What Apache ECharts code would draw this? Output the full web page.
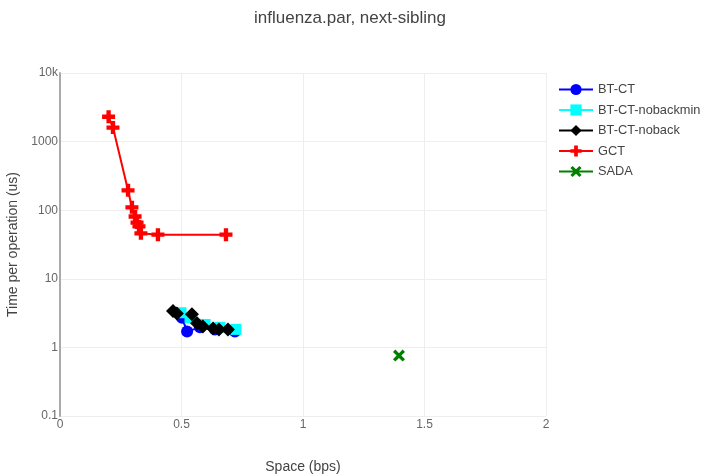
<!DOCTYPE html>
<html>
<head>
<meta charset="utf-8">
<script src="https://cdn.jsdelivr.net/npm/echarts@6/dist/echarts.min.js"></script>
<style>
  html, body { margin: 0; padding: 0; background: #fff; }
  #chart { width: 706px; height: 475px; }
</style>
</head>
<body>
<div id="chart"></div>
<script>
// Space (bps) vs time per operation (us), one list per method
const btCtX = [0.502, 0.523, 0.576, 0.638, 0.72];
const btCtY = [2.7, 1.71, 1.96, 1.83, 1.71];

const btCtNobackminX = [0.498, 0.535, 0.597, 0.658, 0.724];
const btCtNobackminY = [3.2, 2.7, 2.16, 1.96, 1.83];

const btCtNobackX = [0.465, 0.481, 0.543, 0.564, 0.588, 0.63, 0.654, 0.691];
const btCtNobackY = [3.4, 3.13, 3.03, 2.24, 2.02, 1.89, 1.83, 1.83];

const gctX = [0.2, 0.218, 0.28, 0.296, 0.309, 0.317, 0.325, 0.333, 0.403, 0.683];
const gctY = [2300, 1600, 195, 110, 81, 66, 58, 46, 44, 44];

const sadaX = [1.395];
const sadaY = [0.76];

const seriesNames = ['BT-CT', 'BT-CT-nobackmin', 'BT-CT-noback', 'GCT', 'SADA'];
const yTickLabels = { '0.1': '0.1', '1': '1', '10': '10', '100': '100', '1000': '1000', '10000': '10k' };

const plusPath = 'path://M-1,-3L1,-3L1,-1L3,-1L3,1L1,1L1,3L-1,3L-1,1L-3,1L-3,-1L-1,-1Z';
const xPath = 'path://M-2.2,-3.6L0,-1.4L2.2,-3.6L3.6,-2.2L1.4,0L3.6,2.2L2.2,3.6L0,1.4L-2.2,3.6L-3.6,2.2L-1.4,0L-3.6,-2.2Z';

function pairs(xs, ys) { return xs.map((x, i) => [x, ys[i]]); }

function makeSeries(name, xs, ys, color, symbol, size) {
  return {
    name: name,
    type: 'line',
    data: pairs(xs, ys),
    symbol: symbol,
    symbolSize: size,
    showAllSymbol: true,
    lineStyle: { color: color, width: 2 },
    itemStyle: { color: color },
    emphasis: { disabled: true },
    animation: false
  };
}

const chart = echarts.init(document.getElementById('chart'));
chart.setOption({
  animation: false,
  backgroundColor: '#fff',
  textStyle: { fontFamily: 'Liberation Sans, Arial, sans-serif' },
  title: {
    text: 'influenza.par, next-sibling',
    left: 249,
    top: 5,
    textStyle: { fontSize: 17, fontWeight: 'normal', color: '#444' }
  },
  legend: {
    orient: 'vertical',
    left: 553,
    top: 78,
    itemWidth: 34,
    itemHeight: 14,
    itemGap: 7.5,
    textStyle: { fontSize: 12.8, color: '#444' },
    data: seriesNames
  },
  grid: { left: 60, right: 160, top: 73, bottom: 59, containLabel: false, outerBoundsMode: 'none' },
  xAxis: {
    type: 'value',
    min: 0,
    max: 2,
    interval: 0.5,
    name: 'Space (bps)',
    nameLocation: 'middle',
    nameGap: 44,
    nameTextStyle: { fontSize: 14, color: '#444' },
    axisLine: { show: false },
    axisTick: { show: false },
    axisLabel: { color: '#666', fontSize: 12, margin: 3 },
    splitLine: { show: true, lineStyle: { color: '#eee', width: 1 } }
  },
  yAxis: {
    type: 'log',
    logBase: 10,
    min: 0.1,
    max: 10000,
    name: 'Time per operation (us)',
    nameLocation: 'middle',
    nameGap: 37,
    nameTextStyle: { fontSize: 14, color: '#444' },
    axisLine: { show: true, lineStyle: { color: '#aaa', width: 2 } },
    axisTick: { show: false },
    axisLabel: {
      color: '#666',
      fontSize: 12,
      margin: 2,
      formatter: function (v) {
        const key = String(Math.round(v * 10) / 10);
        return yTickLabels[key] !== undefined ? yTickLabels[key] : '';
      }
    },
    splitLine: { show: true, lineStyle: { color: '#eee', width: 1 } }
  },
  series: [
    makeSeries('BT-CT', btCtX, btCtY, '#0000ff', 'circle', 12),
    makeSeries('BT-CT-nobackmin', btCtNobackminX, btCtNobackminY, '#00ffff', 'rect', 11),
    makeSeries('BT-CT-noback', btCtNobackX, btCtNobackY, '#000000', 'diamond', 14),
    makeSeries('GCT', gctX, gctY, '#ff0000', plusPath, 13),
    makeSeries('SADA', sadaX, sadaY, '#008000', xPath, 12)
  ]
});
</script>
</body>
</html>
